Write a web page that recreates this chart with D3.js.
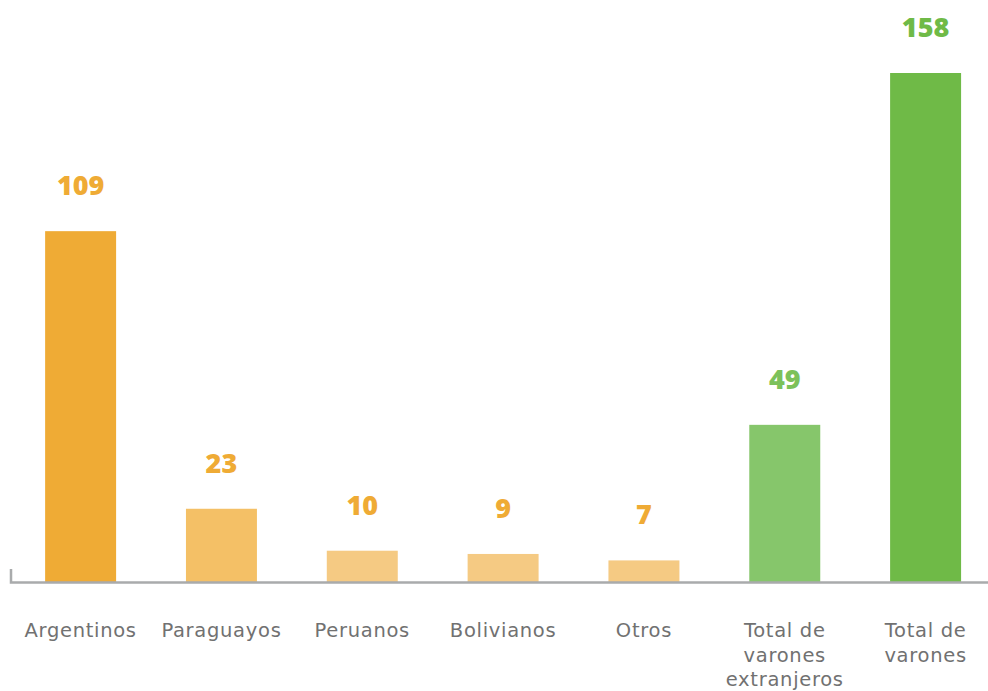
<!DOCTYPE html>
<html>
<head>
<meta charset="utf-8">
<script src="https://cdn.jsdelivr.net/npm/d3@7"></script>
<style>
  body { margin: 0; background: #fff; }
  .cat { font-family: "DejaVu Sans", sans-serif; font-size: 19.5px; fill: #717171; letter-spacing: 0.7px; }
  .val { font-family: "Open Sans", sans-serif; font-size: 27px; font-weight: 800; }
</style>
</head>
<body>
<div id="chart"></div>
<script>
// categorias (cada una en lineas)
const categories = [
  ["Argentinos"],
  ["Paraguayos"],
  ["Peruanos"],
  ["Bolivianos"],
  ["Otros"],
  ["Total de", "varones", "extranjeros"],
  ["Total de", "varones"]
];
const values = [109, 23, 10, 9, 7, 49, 158];
const barColors = ["#efab35", "#f4c066", "#f5ca83", "#f5ca83", "#f5ca83", "#86c66b", "#6fba47"];
const labelColors = ["#efab35", "#efab35", "#efab35", "#efab35", "#efab35", "#7cc15a", "#6fba47"];

const width = 988, height = 691;
const baseY = 583;

const svg = d3.select("#chart").append("svg")
  .attr("width", width)
  .attr("height", height);

const x = d3.scaleBand()
  .domain(d3.range(values.length))
  .range([10.2, 10.2 + 7 * 140.83])
  .paddingInner(0.496)
  .paddingOuter(0.248);

const y = d3.scaleLinear()
  .domain([0, 158])
  .range([baseY, 73]);

// barras
svg.selectAll(".bar")
  .data(values)
  .join("rect")
  .attr("class", "bar")
  .attr("x", (d, i) => x(i))
  .attr("width", x.bandwidth())
  .attr("y", d => y(d))
  .attr("height", d => baseY - y(d))
  .attr("fill", (d, i) => barColors[i]);

// eje
svg.append("path")
  .attr("d", `M11,569V${baseY - 0.5}H${width}`)
  .attr("fill", "none")
  .attr("stroke", "#a9abac")
  .attr("stroke-width", 2.5);

// valores
svg.selectAll(".val")
  .data(values)
  .join("text")
  .attr("class", "val")
  .attr("x", (d, i) => x(i) + x.bandwidth() / 2)
  .attr("y", d => y(d) - 36)
  .attr("text-anchor", "middle")
  .attr("fill", (d, i) => labelColors[i])
  .text(d => d);

// nombres
const cat = svg.selectAll(".cat")
  .data(categories)
  .join("text")
  .attr("class", "cat")
  .attr("text-anchor", "middle")
  .attr("x", (d, i) => x(i) + x.bandwidth() / 2)
  .attr("y", 637);

cat.selectAll("tspan")
  .data(d => d)
  .join("tspan")
  .attr("x", function() { return this.parentNode.getAttribute("x"); })
  .attr("dy", (d, j) => j === 0 ? 0 : 24.5)
  .text(d => d);
</script>
</body>
</html>
